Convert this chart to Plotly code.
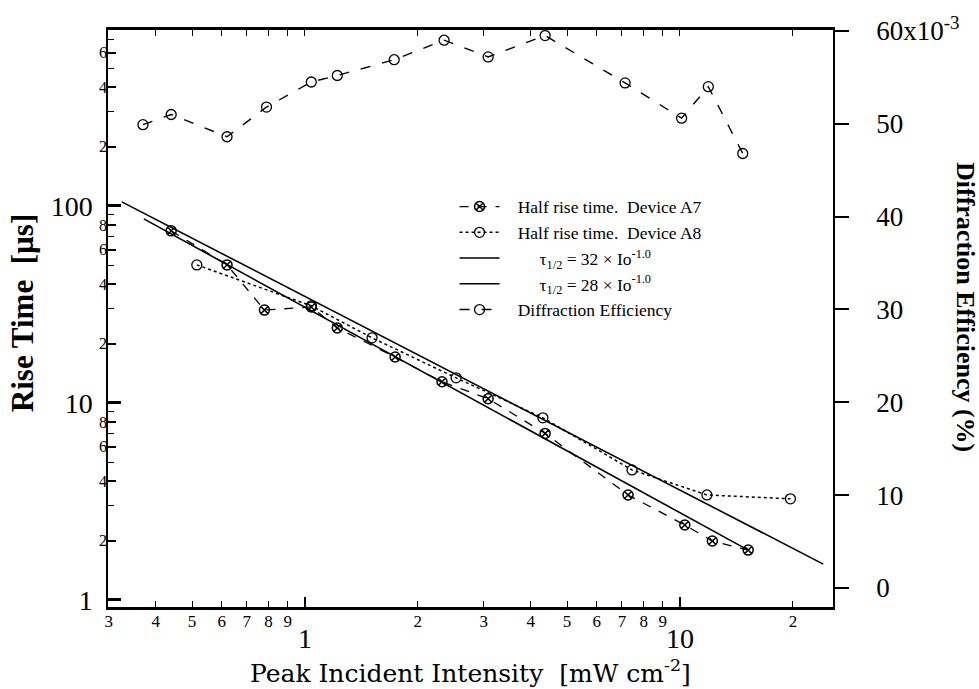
import plotly.graph_objects as go

# ---- data ----
I_A7 = [0.44, 0.62, 0.78, 1.04, 1.22, 1.74, 2.32, 3.08, 4.37, 7.27, 10.3, 12.2, 15.2]
t_A7 = [74.7, 50.2, 29.6, 30.7, 24.0, 17.1, 12.8, 10.5, 7.0, 3.41, 2.40, 1.99, 1.79]

I_A8 = [0.515, 1.04, 1.51, 2.53, 4.31, 7.45, 11.8, 19.7]
t_A8 = [50.2, 31.1, 21.4, 13.4, 8.4, 4.57, 3.41, 3.26]

I_fit32 = [0.325, 24.1]
t_fit32 = [104.8, 1.52]
I_fit28 = [0.372, 15.2]
t_fit28 = [85.9, 1.79]

I_DE = [0.37, 0.44, 0.62, 0.79, 1.04, 1.22, 1.73, 2.35, 3.08, 4.37, 7.14, 10.1, 11.9, 14.7]
DE_e3 = [49.9, 51.0, 48.6, 51.8, 54.5, 55.2, 56.9, 59.0, 57.2, 59.5, 54.4, 50.6, 54.0, 46.8]

NB = "\u00a0"
names = [NB * 3 + "Half rise time.  Device A7",
         NB * 3 + "Half rise time.  Device A8",
         NB * 8 + "τ<sub>1/2</sub> = 32 × Io<sup>-1.0</sup>",
         NB * 8 + "τ<sub>1/2</sub> = 28 × Io<sup>-1.0</sup>",
         NB * 3 + "Diffraction Efficiency"]

x_major = [1, 10]
x_major_txt = ["1", "10"]
x_minor = [0.3, 0.4, 0.5, 0.6, 0.7, 0.8, 0.9, 2, 3, 4, 5, 6, 7, 8, 9, 20]
x_minor_txt = ["3", "4", "5", "6", "7", "8", "9", "2", "3", "4", "5", "6", "7", "8", "9", "2"]
y_major = [1, 10, 100]
y_major_txt = ["1", "10", "100"]
y_minor = [2, 4, 6, 8, 20, 40, 60, 80, 200, 400, 600]
y_minor_txt = ["2", "4", "6", "8", "2", "4", "6", "8", "2", "4", "6"]
y_unlabeled = [3, 5, 7, 9, 30, 50, 70, 90, 300, 500, 700]
y2_vals = [0, 10, 20, 30, 40, 50, 60]
y2_txt = ["0", "10", "20", "30", "40", "50", "60x10<sup>-3</sup>"]

FONT = "Liberation Serif"
BLK = "black"

fig = go.Figure()
fig.add_trace(go.Scatter(x=I_A7, y=t_A7, name=names[0], mode="lines+markers",
                         line=dict(color=BLK, width=1.3, dash="dash"),
                         marker=dict(symbol="circle-x-open", size=10, color=BLK, line=dict(width=1.5))))
fig.add_trace(go.Scatter(x=I_A8, y=t_A8, name=names[1], mode="lines+markers",
                         line=dict(color=BLK, width=1.5, dash="dot"),
                         marker=dict(symbol="circle-open", size=10, color=BLK, line=dict(width=1.3))))
fig.add_trace(go.Scatter(x=I_fit32, y=t_fit32, name=names[2], mode="lines",
                         line=dict(color=BLK, width=1.6)))
fig.add_trace(go.Scatter(x=I_fit28, y=t_fit28, name=names[3], mode="lines",
                         line=dict(color=BLK, width=1.6)))
fig.add_trace(go.Scatter(x=I_DE, y=DE_e3, name=names[4], mode="lines+markers", yaxis="y2",
                         line=dict(color=BLK, width=1.4, dash="10px,12px"),
                         marker=dict(symbol="circle-open", size=10, color=BLK, line=dict(width=1.3))))
# invisible helpers so the extra tick-label axes are drawn
for xa, ya in (("x3", "y"), ("x", "y3"), ("x4", "y")):
    fig.add_trace(go.Scatter(x=[1], y=[10], xaxis=xa, yaxis=ya, mode="markers",
                             marker=dict(opacity=0), showlegend=False, hoverinfo="skip"))

xr = [-0.525, 1.408]
yr = [-0.036, 2.893]

fig.update_layout(
    width=979, height=689,
    margin=dict(l=108, r=146, t=30, b=82, autoexpand=False),
    paper_bgcolor="white", plot_bgcolor="white",
    font=dict(family=FONT, color=BLK),
    showlegend=True,
    legend=dict(x=0.478, y=0.725, xanchor="left", yanchor="top",
                bgcolor="rgba(0,0,0,0)", font=dict(size=17.5, family=FONT, color=BLK),
                tracegroupgap=0, itemwidth=40),
    xaxis=dict(type="log", range=xr, tickvals=x_major, ticktext=x_major_txt,
               ticks="inside", ticklen=10, tickwidth=1.5, tickcolor=BLK,
               tickfont=dict(size=28, color=BLK), ticklabelstandoff=5,
               showline=True, linewidth=2.5, linecolor=BLK, mirror=True,
               showgrid=False, zeroline=False, automargin=False),
    xaxis3=dict(type="log", range=xr, overlaying="x", anchor="y", side="bottom",
                tickvals=x_minor, ticktext=x_minor_txt,
                ticks="inside", ticklen=6, tickwidth=1.2, tickcolor=BLK,
                tickfont=dict(size=17, color=BLK), ticklabelstandoff=2,
                showline=False, showgrid=False, zeroline=False, automargin=False),
    xaxis4=dict(type="log", range=xr, overlaying="x", anchor="y", side="top",
                tickvals=x_minor + x_major, showticklabels=False,
                ticks="inside", ticklen=6, tickwidth=1.2, tickcolor=BLK,
                showline=False, showgrid=False, zeroline=False, automargin=False),
    yaxis=dict(type="log", range=yr, tickvals=y_major, ticktext=y_major_txt,
               ticks="inside", ticklen=13, tickwidth=2.5, tickcolor=BLK,
               tickfont=dict(size=28, color=BLK), ticklabelstandoff=8,
               showline=True, linewidth=1.5, linecolor=BLK,
               showgrid=False, zeroline=False, automargin=False),
    yaxis3=dict(type="log", range=yr, overlaying="y", anchor="x", side="left",
                tickvals=y_minor, ticktext=y_minor_txt,
                ticks="inside", ticklen=8, tickwidth=1.5, tickcolor=BLK,
                tickfont=dict(size=16, color=BLK), ticklabelstandoff=0,
                minor=dict(tickvals=y_unlabeled, ticks="inside", ticklen=6,
                           tickwidth=1.2, tickcolor=BLK),
                showline=False, showgrid=False, zeroline=False, automargin=False),
    yaxis2=dict(range=[-2.05, 60.1], overlaying="y", anchor="x", side="right",
                tickvals=y2_vals, ticktext=y2_txt,
                ticks="outside", ticklen=14, tickwidth=2, tickcolor=BLK,
                tickfont=dict(size=27, color=BLK), ticklabelstandoff=22,
                showline=True, linewidth=1.5, linecolor=BLK,
                showgrid=False, zeroline=False, automargin=False),
    annotations=[
        dict(text="<b>Rise Time  [µs]</b>", xref="paper", yref="paper",
             x=-0.118, y=0.51, textangle=-90, showarrow=False,
             font=dict(size=31, family=FONT, color=BLK), xanchor="center", yanchor="middle"),
        dict(text="<b>Diffraction Efficiency (%)</b>", xref="paper", yref="paper",
             x=1.182, y=0.52, textangle=90, showarrow=False,
             font=dict(size=26, family=FONT, color=BLK), xanchor="center", yanchor="middle"),
        dict(text="Peak Incident Intensity  [mW cm<sup>-2</sup>]", xref="paper", yref="paper",
             x=0.5, y=-0.112, showarrow=False,
             font=dict(size=25, family="DejaVu Serif", color=BLK), xanchor="center", yanchor="middle"),
    ],
)

fig.write_html("out.html")
